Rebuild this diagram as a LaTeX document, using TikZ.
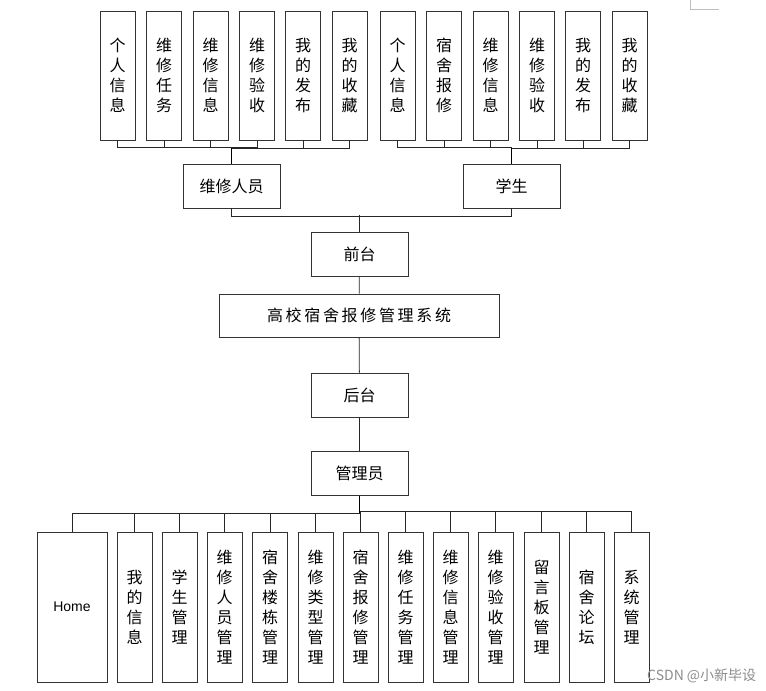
\documentclass[tikz,border=0pt]{standalone}
\usepackage{fontspec}
\newfontfamily\cjk{Noto Sans CJK SC}
\newfontfamily\lat{Liberation Sans}
\usetikzlibrary{positioning,calc}

\tikzset{
  box/.style = {draw = black!80, line width = .8pt, inner sep = 0pt, font = \cjk\fontsize{16}{20}\selectfont, align = center},
  col/.style = {box, minimum width = 35pt, minimum height = 129pt},
  low/.style = {box, minimum width = 35pt, minimum height = 150pt},
  wide/.style = {box, minimum width = 97pt, minimum height = 44pt},
  link/.style = {draw = black!85, line width = .8pt},
  trunk/.style = {draw = black, line width = 1.2pt}
}

\begin{document}
\begin{tikzpicture}[x = 1pt, y = -1pt]
\useasboundingbox (0, 0) rectangle (766, 691);
% top row, left group
\node[col] (w1) at (117.5, 75.5) {个\\人\\信\\息};
\node[col] (w2) at (164, 75.5) {维\\修\\任\\务};
\node[col] (w3) at (210.5, 75.5) {维\\修\\信\\息};
\node[col] (w4) at (257, 75.5) {维\\修\\验\\收};
\node[col] (w5) at (303, 75.5) {我\\的\\发\\布};
\node[col] (w6) at (349.5, 75.5) {我\\的\\收\\藏};
% top row, right group
\node[col] (s1) at (397.5, 75.5) {个\\人\\信\\息};
\node[col] (s2) at (444, 75.5) {宿\\舍\\报\\修};
\node[col] (s3) at (490.5, 75.5) {维\\修\\信\\息};
\node[col] (s4) at (537, 75.5) {维\\修\\验\\收};
\node[col] (s5) at (583, 75.5) {我\\的\\发\\布};
\node[col] (s6) at (629.5, 75.5) {我\\的\\收\\藏};
% roles
\node[wide] (wxry) at (231.5, 186) {维修人员};
\node[wide] (xs) at (511.5, 186) {学生};
% middle column
\node[wide] (qt) at (359.5, 254.5) {前台};
\node[box, minimum width = 280pt, minimum height = 43pt] (sys) at (359, 315.5) {高\,校\,宿\,舍\,报\,修\,管\,理\,系\,统};
\node[wide] (ht) at (359.5, 395) {后台};
\node[wide] (gly) at (359.5, 473.5) {管理员};
% bottom row
\node[box, minimum width = 70pt, minimum height = 150pt, font = \lat\fontsize{14}{20}\selectfont] (home) at (72, 607) {Home};
\node[low] (b1) at (134.5, 607) {我\\的\\信\\息};
\node[low] (b2) at (179.5, 607) {学\\生\\管\\理};
\node[low] (b3) at (224.5, 607) {维\\修\\人\\员\\管\\理};
\node[low] (b4) at (270, 607) {宿\\舍\\楼\\栋\\管\\理};
\node[low] (b5) at (315.5, 607) {维\\修\\类\\型\\管\\理};
\node[low] (b6) at (360.5, 607) {宿\\舍\\报\\修\\管\\理};
\node[low] (b7) at (405.5, 607) {维\\修\\任\\务\\管\\理};
\node[low] (b8) at (450.5, 607) {维\\修\\信\\息\\管\\理};
\node[low] (b9) at (495.5, 607) {维\\修\\验\\收\\管\\理};
\node[low] (b10) at (541.5, 607) {留\\言\\板\\管\\理};
\node[low] (b11) at (586.5, 607) {宿\\舍\\论\\坛};
\node[low] (b12) at (631.5, 607) {系\\统\\管\\理};
% bus points
\coordinate (wbus) at ($(wxry.north) + (0, -16)$);
\coordinate (sbus) at ($(xs.north) + (0, -16)$);
\coordinate (gbus) at ($(gly.south) + (0, 17)$);
% connectors
\draw[link] (w1.south) |- (wbus);
\draw[link] (w2.south) |- (wbus);
\draw[link] (w3.south) |- (wbus);
\draw[link] (w4.south) |- (wbus);
\draw[link] (w5.south) -- ++(0, 8) -| (wbus);
\draw[link] (w6.south) -- ++(0, 8) -| (wbus);
\draw[trunk] (wxry.north) -- (wbus);
\draw[link] (s1.south) |- (sbus);
\draw[link] (s2.south) |- (sbus);
\draw[link] (s3.south) |- (sbus);
\draw[link] (s4.south) -- ++(0, 8) -| (sbus);
\draw[link] (s5.south) -- ++(0, 8) -| (sbus);
\draw[link] (s6.south) -- ++(0, 8) -| (sbus);
\draw[trunk] (xs.north) -- (sbus);
\draw[link] (wxry.south) -- ++(0, 8) -| (xs.south);
\draw[link] (qt.north) -- ++(0, -17);
\draw[link] (qt) -- (sys);
\draw[link] (sys) -- (ht);
\draw[link] (ht) -- (gly);
\draw[link] (home.north) |- (gbus);
\draw[link] (b1.north) |- (gbus);
\draw[link] (b2.north) |- (gbus);
\draw[link] (b3.north) |- (gbus);
\draw[link] (b4.north) |- (gbus);
\draw[link] (b5.north) |- (gbus);
\draw[link] (b6.north) -- ++(0, -20) -| (gbus);
\draw[link] (b7.north) -- ++(0, -20) -| (gbus);
\draw[link] (b8.north) -- ++(0, -20) -| (gbus);
\draw[link] (b9.north) -- ++(0, -20) -| (gbus);
\draw[link] (b10.north) -- ++(0, -20) -| (gbus);
\draw[link] (b11.north) -- ++(0, -20) -| (gbus);
\draw[link] (b12.north) -- ++(0, -20) -| (gbus);
\draw[trunk] (gly.south) -- (gbus);
% page corner and watermark
\coordinate (pc) at (690, 9);
\draw[black!25, line width = .7pt] (690, 0) -- (pc) -- (719, 9);
\node[font = \cjk\fontsize{14}{16}\selectfont, text = black!45, anchor = west, inner sep = 0pt] (mark) at (647, 676) {CSDN @小新毕设};
\end{tikzpicture}
\end{document}
